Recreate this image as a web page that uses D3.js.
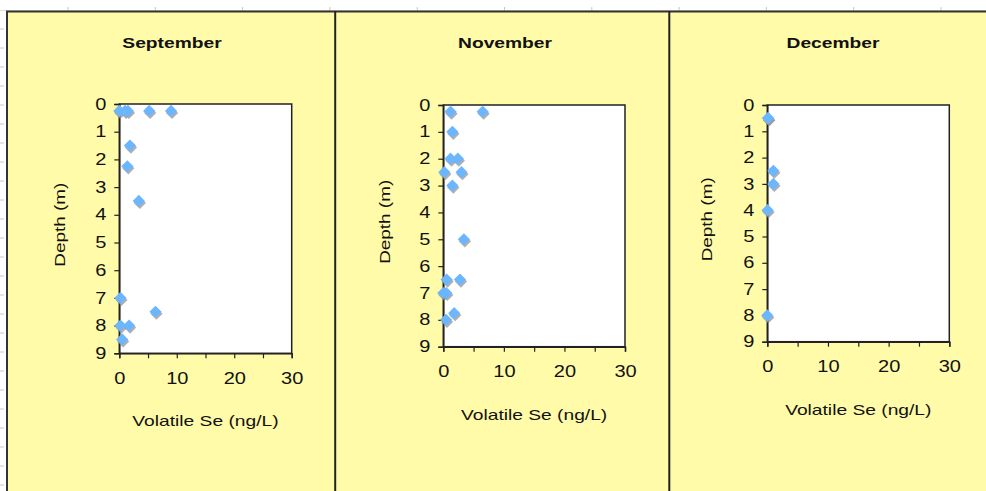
<!DOCTYPE html>
<html><head><meta charset="utf-8">
<script src="https://cdn.jsdelivr.net/npm/d3@7/dist/d3.min.js"></script>
<style>
html,body{margin:0;padding:0;background:#fff;}
svg{display:block;font-family:"Liberation Sans",Arial,sans-serif;}
</style></head>
<body><svg id="c" width="986" height="491"></svg>
<script>
// ---- data ----
const panelTitles = ["September", "November", "December"];
const xTicks = [0, 10, 20, 30];
const yTicks = [0, 1, 2, 3, 4, 5, 6, 7, 8, 9];
const xLabel = "Volatile Se (ng/L)";
const yLabel = "Depth (m)";

const sepSe    = [0, 1.0, 1.5, 5.2, 9.0, 1.85, 1.4, 3.4, 0.2, 6.3, 0.2, 1.7, 0.5];
const sepDepth = [0.25, 0.25, 0.25, 0.25, 0.25, 1.5, 2.25, 3.5, 7, 7.5, 8, 8, 8.5];

const novSe    = [1.2, 6.5, 1.5, 1.2, 2.4, 0.17, 3.0, 1.5, 3.4, 0.55, 2.75, 0, 0.5, 1.8, 0.45];
const novDepth = [0.25, 0.25, 1, 2, 2, 2.5, 2.5, 3, 5, 6.5, 6.5, 7, 7, 7.75, 8];

const decSe    = [0.17, 0.1, 1.0, 1.0, 0.05, 0];
const decDepth = [0.5, 0.5, 2.5, 3, 4, 8];

const seriesSe = [sepSe, novSe, decSe];
const seriesDepth = [sepDepth, novDepth, decDepth];

// ---- layout ----
const svg = d3.select("#c");
const yellow = "#FFFBA8";
const plots = [
  {x0: 119.3, x1: 291.7, y0: 104, y1: 353.3, tx: 172, dx: 60},
  {x0: 443.3, x1: 625, y0: 105, y1: 346.7, tx: 505, dx: 385},
  {x0: 767.3, x1: 949.3, y0: 105, y1: 341.7, tx: 833, dx: 707}
];

function stretch(sel, k) {
  sel.each(function () {
    const L = this.getComputedTextLength();
    if (L > 0) d3.select(this).attr("textLength", L * k).attr("lengthAdjust", "spacingAndGlyphs");
  });
}

// spreadsheet remnants
const grid = svg.append("g").attr("stroke", "#c8c8c8").attr("stroke-width", 1);
grid.append("line").attr("x1", 0).attr("x2", 986).attr("y1", 10.5).attr("y2", 10.5).attr("stroke", "#dddddd");
d3.range(68, 986, 87.3).forEach(x => grid.append("line").attr("x1", x).attr("x2", x).attr("y1", 7).attr("y2", 11));
d3.range(29, 491, 19).forEach(y => grid.append("line").attr("x1", 0).attr("x2", 4).attr("y1", y).attr("y2", y));

// yellow background frames
svg.append("rect").attr("x", 7).attr("y", 12).attr("width", 986 - 7).attr("height", 491 - 12).attr("fill", yellow);
svg.append("line").attr("x1", 6).attr("x2", 986).attr("y1", 11.5).attr("y2", 11.5).attr("stroke", "#333").attr("stroke-width", 2);
svg.append("line").attr("x1", 7).attr("x2", 7).attr("y1", 11).attr("y2", 491).attr("stroke", "#333").attr("stroke-width", 2);
[335.2, 669.3].forEach(x => svg.append("line").attr("x1", x).attr("x2", x).attr("y1", 11).attr("y2", 491).attr("stroke", "#222").attr("stroke-width", 2));

const diamond = d3.symbol().type(d3.symbolDiamond2 || d3.symbolDiamond).size(95);

plots.forEach((p, i) => {
  const g = svg.append("g");
  const x = d3.scaleLinear().domain([0, 30]).range([p.x0, p.x1]);
  const y = d3.scaleLinear().domain([0, 9]).range([p.y0, p.y1]);

  g.append("rect").attr("x", p.x0).attr("y", p.y0).attr("width", p.x1 - p.x0).attr("height", p.y1 - p.y0)
    .attr("fill", "#fff").attr("stroke", "#222").attr("stroke-width", 1.5);

  // axes
  const xa = g.append("g").attr("transform", `translate(0,${p.y1})`)
    .call(d3.axisBottom(x).tickValues(d3.range(0, 31, 5)).tickSize(5).tickFormat(d => xTicks.includes(d) ? d : ""));
  const ya = g.append("g").attr("transform", `translate(${p.x0},0)`)
    .call(d3.axisLeft(y).tickValues(yTicks).tickSize(5).tickPadding(8));
  [xa, ya].forEach(a => {
    a.select(".domain").attr("stroke", "#222").attr("stroke-width", 1.5);
    a.selectAll(".tick line").attr("stroke", "#222").attr("stroke-width", 1.2);
    a.selectAll("text").attr("fill", "#111").style("font-size", "16px").style("font-family", "'Liberation Sans',Arial,sans-serif");
  });
  xa.selectAll("text").attr("dy", "1.4em");
  stretch(xa.selectAll("text"), 1.25);
  stretch(ya.selectAll("text"), 1.25);

  // titles
  stretch(g.append("text").attr("x", p.tx).attr("y", 48).attr("text-anchor", "middle")
    .style("font-size", "15px").style("font-weight", "bold").attr("fill", "#111").text(panelTitles[i]), 1.28);
  stretch(g.append("text").attr("x", (p.x0 + p.x1) / 2).attr("y", p.y1 + 73).attr("text-anchor", "middle")
    .style("font-size", "15px").attr("fill", "#111").text(xLabel), 1.28);
  stretch(g.append("text").attr("transform", `translate(${p.dx},${(p.y0 + p.y1) / 2 - 4}) rotate(-90)`)
    .attr("text-anchor", "middle").attr("dy", "0.35em")
    .style("font-size", "15px").attr("fill", "#111").text(yLabel), 1.26);

  // markers
  const pts = seriesSe[i].map((v, k) => [v, seriesDepth[i][k]]);
  g.append("g").selectAll("path").data(pts).join("path")
    .attr("d", diamond).attr("fill", "#8f8f8f").attr("opacity", 0.7)
    .attr("transform", d => `translate(${x(d[0]) + 1},${y(d[1]) + 2})`);
  g.append("g").selectAll("path").data(pts).join("path")
    .attr("d", diamond).attr("fill", "#6CB6FF")
    .attr("transform", d => `translate(${x(d[0])},${y(d[1])})`);
});
</script>
</body></html>
